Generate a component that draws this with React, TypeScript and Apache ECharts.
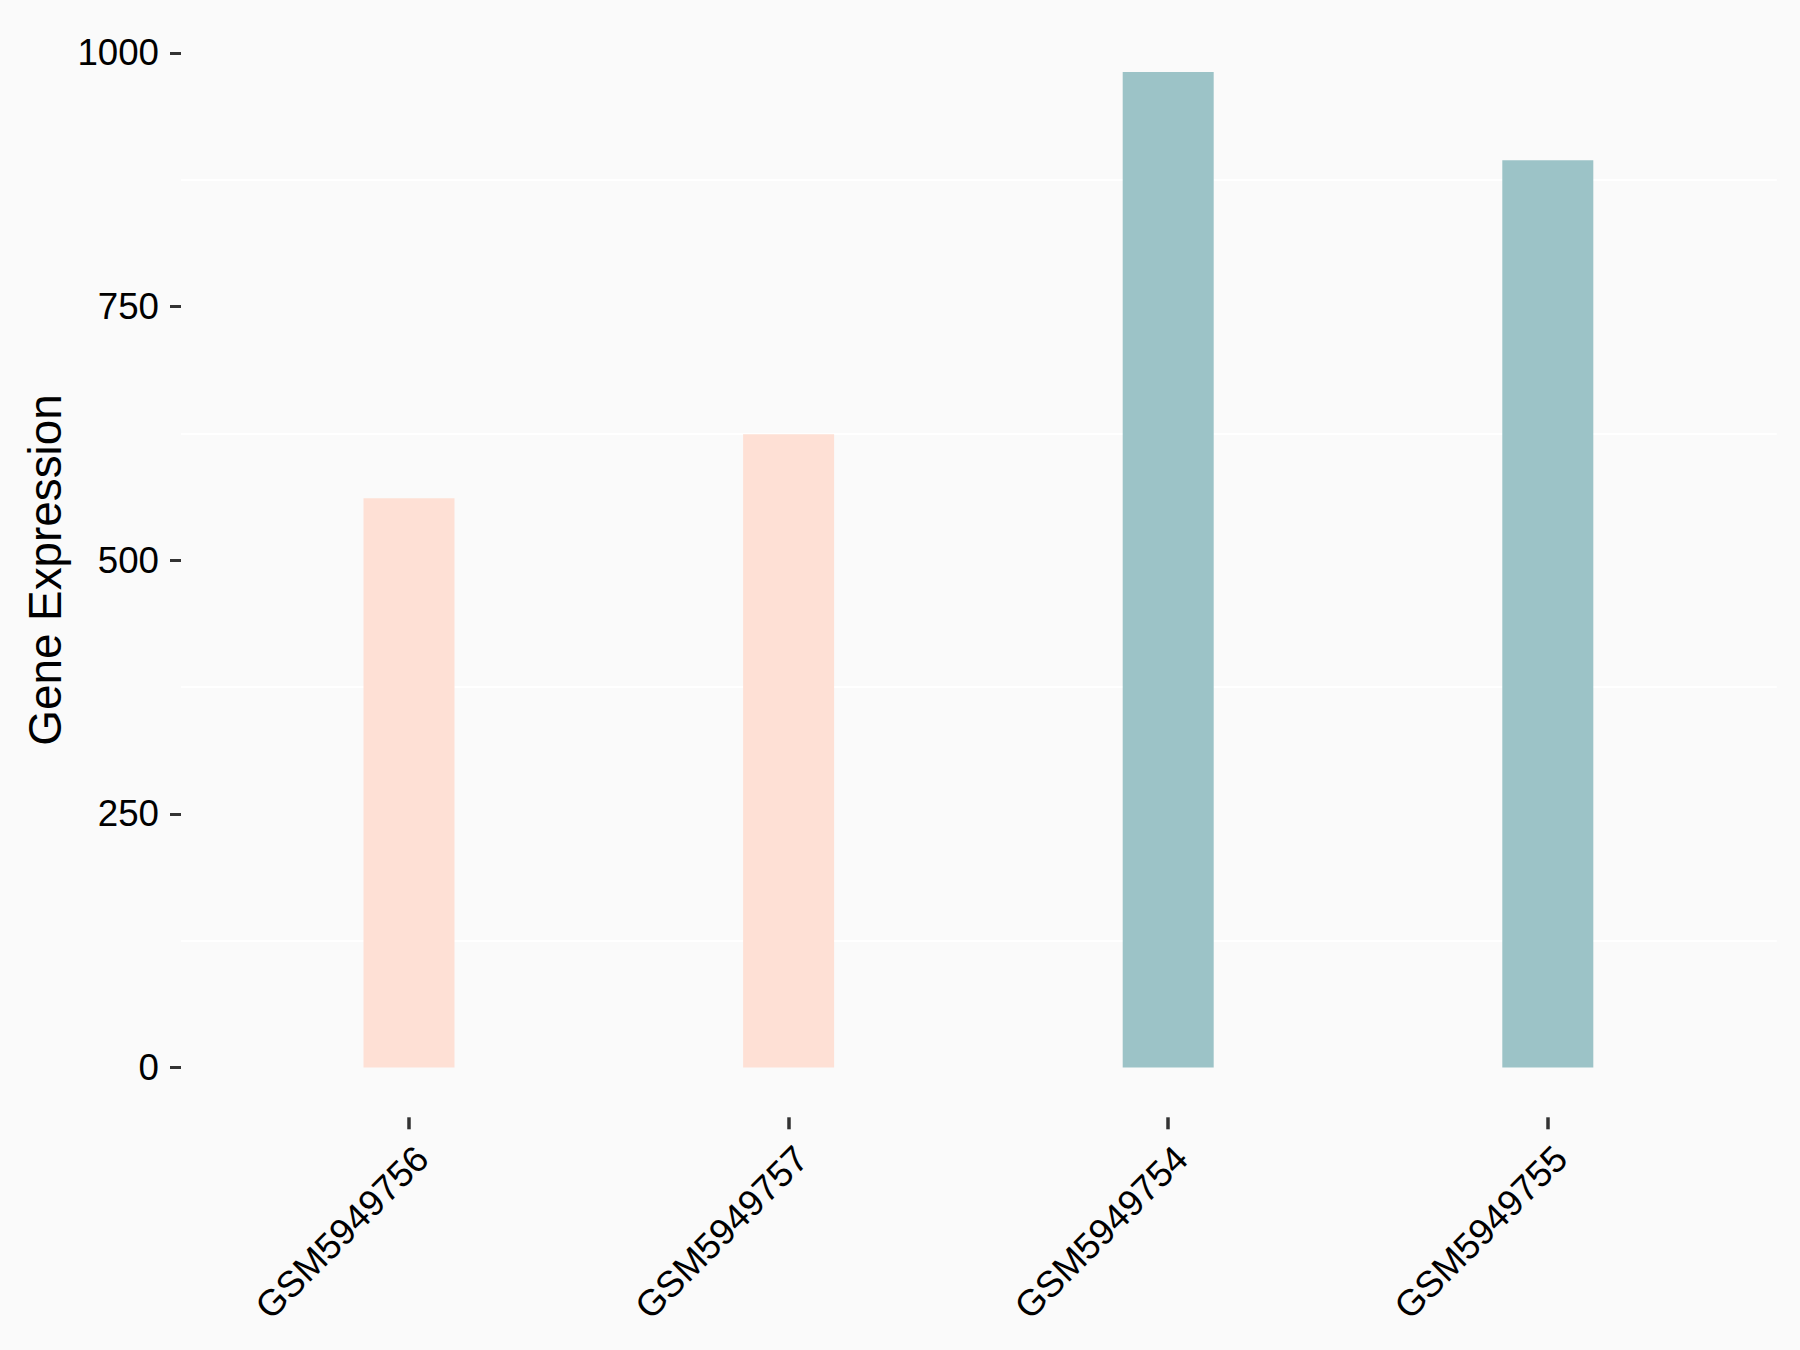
import React, { useEffect, useRef } from "react";
import * as echarts from "echarts";

const categories = ["GSM5949756", "GSM5949757", "GSM5949754", "GSM5949755"];
const values = [561, 624, 981, 894];
const barColors = ["#FEE0D5", "#FEE0D5", "#9CC3C7", "#9CC3C7"];
const yMin = 0;
const yMax = 1000;
const yInterval = 250;
const yTitle = "Gene Expression";

const FONT = "'Liberation Sans', Arial, sans-serif";

export default function App() {
  const ref = useRef<HTMLDivElement>(null);
  useEffect(() => {
    const chart = echarts.init(ref.current!, null, { renderer: "svg" });
    const top = 52.8;
    const height = 1014.8;
    const pxPerUnit = height / (yMax - yMin);
    const panelBottom = 1117.3;
    const extMin = -(panelBottom - (top + height)) / pxPerUnit;
    chart.setOption({
      animation: false,
      backgroundColor: "#FAFAFA",
      grid: [
        { left: 181, width: 1595.7, top, height, containLabel: false },
        { left: 219.2, width: 1518.4, top, height: panelBottom - top, containLabel: false },
      ],
      xAxis: [
        { gridIndex: 0, type: "value", min: 0, max: 1, show: false },
        {
          gridIndex: 1,
          type: "category",
          data: categories,
          boundaryGap: true,
          axisLine: { show: false, onZero: false },
          axisTick: {
            show: true,
            alignWithLabel: true,
            length: 12,
            lineStyle: { color: "#333333", width: 3.5 },
          },
          axisLabel: {
            rotate: 45,
            align: "right",
            verticalAlign: "top",
            margin: 22,
            fontSize: 36.7,
            fontFamily: FONT,
            color: "#000000",
            interval: 0,
          },
          splitLine: { show: false },
        },
      ],
      yAxis: [
        {
          gridIndex: 0,
          type: "value",
          min: yMin,
          max: yMax,
          interval: yInterval,
          axisLine: { show: false },
          axisTick: {
            show: true,
            length: 11,
            lineStyle: { color: "#333333", width: 3 },
          },
          axisLabel: {
            margin: 22,
            fontSize: 36.7,
            fontFamily: FONT,
            color: "#000000",
            formatter: (v: number) => String(v),
          },
          splitLine: { show: false },
          minorTick: { show: false, splitNumber: 2 },
          minorSplitLine: { show: true, lineStyle: { color: "#FFFFFF", width: 2 } },
        },
        {
          gridIndex: 1,
          type: "value",
          min: extMin,
          max: yMax,
          show: false,
          splitLine: { show: false },
        },
      ],
      graphic: [
        {
          type: "text",
          x: 45,
          y: 570,
          rotation: Math.PI / 2,
          style: {
            text: yTitle,
            fontSize: 45.8,
            fontFamily: FONT,
            fill: "#000000",
            align: "center",
            verticalAlign: "middle",
          },
        },
      ],
      series: [
        {
          type: "bar",
          xAxisIndex: 1,
          yAxisIndex: 1,
          barWidth: 91,
          data: values.map((v, i) => ({ value: v, itemStyle: { color: barColors[i] } })),
        },
      ],
    });
    return () => chart.dispose();
  }, []);
  return (
    <div
      ref={ref}
      style={{ position: "fixed", left: 0, top: 0, width: 1800, height: 1350 }}
    />
  );
}
